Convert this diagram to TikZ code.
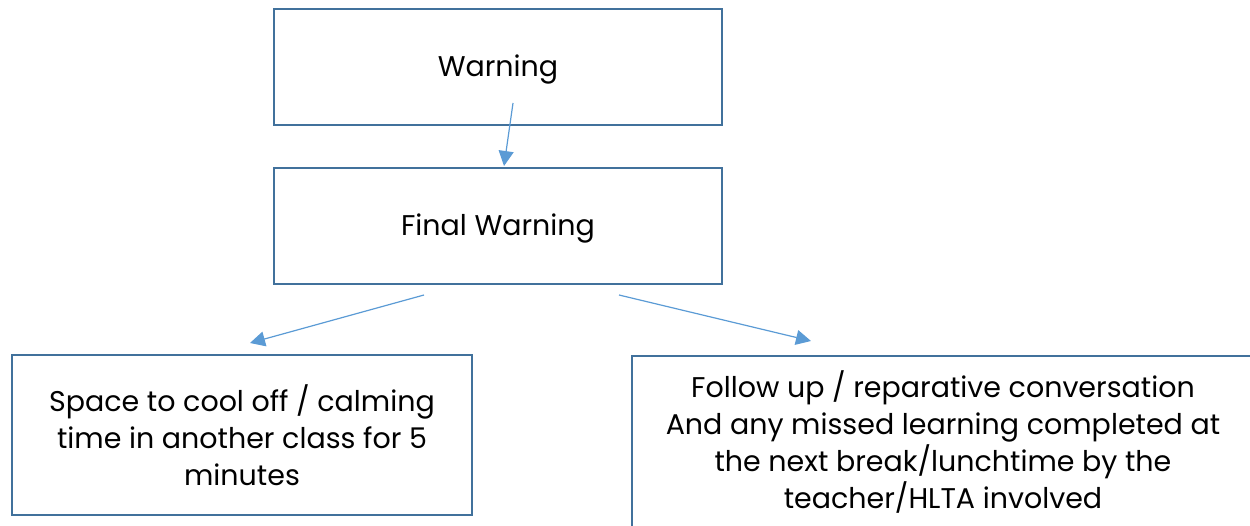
\documentclass[tikz,border=0pt]{standalone}
\usepackage{fontspec}
\setmainfont{Poppins}
\usepackage{tikz}
\usetikzlibrary{arrows.meta,shapes}
\definecolor{boxline}{HTML}{41719C}
\definecolor{arrowline}{HTML}{5B9BD5}

\begin{document}
\begin{tikzpicture}[x=1pt,y=-1pt,
  stagebox/.style={draw=boxline,line width=2pt,rectangle,align=center,inner sep=0pt,
    font=\fontsize{28.5}{37}\selectfont},
  oneline/.style={text height=20pt,text depth=0pt},
  flow/.style={draw=arrowline,line width=1.2pt,-{Triangle[length=15pt,width=15pt]}}]
\useasboundingbox (0,0) rectangle (1250,526);

\node (warn) at (498,67) [stagebox,oneline,minimum width=448,minimum height=116] {Warning};
\node (final) at (498,226) [stagebox,oneline,minimum width=448,minimum height=116] {Final Warning};
\node (cool) at (242,435) [stagebox,minimum width=460,minimum height=160] {Space to cool off / calming\\time in another class for 5\\minutes};
\node (follow) at (943,442) [stagebox,minimum width=622,minimum height=172] {Follow up / reparative conversation\\And any missed learning completed at\\the next break/lunchtime by the\\teacher/HLTA involved};

\coordinate (w1) at (513,103);
\coordinate (w2) at (504,166);
\coordinate (f1) at (424,295);
\coordinate (f2) at (250,343);
\coordinate (f3) at (619,295);
\coordinate (f4) at (811,341);
\draw [flow] (w1) -- (w2);
\draw [flow] (f1) -- (f2);
\draw [flow] (f3) -- (f4);
\end{tikzpicture}
\end{document}
